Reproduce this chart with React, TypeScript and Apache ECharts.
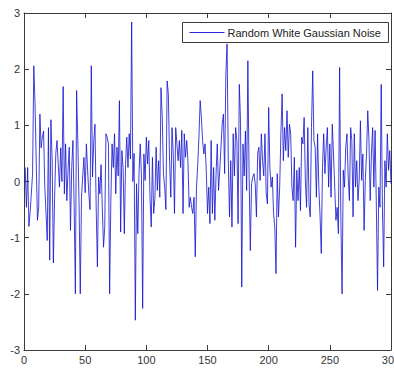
import React, { useEffect, useRef } from "react";
import * as echarts from "echarts";

// Random white Gaussian noise, samples 1..300
const noise1 = [
  0.25, -0.46, 0.25, -0.8, -0.55, -0.22, 0.14, 2.06, 1.4, 0.35,
  -0.69, -0.46, 1.2, 0.6, 0.79, 0.9, -0.1, -0.57, -1.05, 0.96,
  -1.4, 1.1, 0.4, -1.45, -0.3, 0.5, 0.73, 0.3, -0.1, 0.6,
  0.0, 1.69, -0.22, 0.67, -0.34, 0.2, 0.61, -0.87, 0.25, 0.73,
  -0.46, -2.0, 1.62, 0.73, -0.4, -2.0, -0.28, 0.1, 0.43, -0.2,
];
const noise2 = [
  0.67, 0.2, -0.22, -0.5, 2.06, 0.08, 0.7, 1.02, -0.46, -1.52,
  0.08, -0.22, 0.3, -0.46, -1.17, -0.81, 0.85, 0.79, 0.67, -2.0,
  -0.34, 0.67, 0.25, 0.85, -0.22, 0.61, 0.1, 1.44, -0.9, 0.55,
  0.25, -0.93, 0.3, 0.79, 0.25, 0.85, 0.4, 2.84, 0.0, 0.5,
  -2.47, -0.04, -0.93, 0.14, 0.67, 0.1, -2.26, 0.49, 0.02, 0.79,
];
const noise3 = [
  0.31, 0.73, -0.28, -0.81, 0.43, -0.57, -0.3, 0.61, -0.16, 0.37,
  -0.28, 1.67, 1.14, 0.14, -0.1, -0.5, 1.79, 1.56, 0.37, -0.28,
  0.96, 0.49, -0.57, 0.96, 0.67, 0.37, 0.73, 0.25, 0.91, -0.57,
  0.85, 0.43, 0.73, 0.37, -0.46, -0.28, -0.46, -0.57, -0.28, -1.34,
  -0.1, 0.3, 0.79, 1.44, 1.14, 0.73, 0.49, 0.67, 0.2, -0.57,
];
const noise4 = [
  -0.1, -0.75, 0.73, -0.57, 0.25, -0.69, 0.14, 0.67, -0.16, 0.2,
  0.61, 1.02, 1.2, 0.14, 1.9, 2.45, 0.37, -0.63, 0.37, -0.81,
  0.85, 0.1, 0.96, 0.73, -0.75, 1.73, 1.08, -1.88, 0.67, 0.1,
  0.9, -0.16, 2.15, 0.14, -1.23, -0.04, 0.08, 0.14, -0.04, -0.63,
  0.49, 0.61, 0.02, 0.85, 0.37, 0.1, 0.85, -0.22, -0.4, 1.32,
];
const noise5 = [
  0.25, -0.1, 0.08, -0.57, -0.81, -1.64, 0.14, -0.63, -0.1, 0.85,
  1.56, 0.37, 0.96, 0.55, 1.26, 0.43, 1.02, 0.85, -0.1, -0.34,
  0.43, -1.17, 0.2, -0.34, 0.25, -0.52, 0.79, 0.67, 1.14, 0.02,
  -0.46, 0.96, -0.4, -0.63, 0.96, 1.97, 0.73, 0.61, -0.28, 0.85,
  -0.1, -0.6, -1.28, 0.25, 0.85, 0.14, 0.61, 0.96, -0.1, 0.67,
];
const noise6 = [
  -0.28, 1.02, 0.49, -0.1, -0.69, -0.46, -0.93, 2.03, -0.63, -2.0,
  0.2, -0.1, 0.61, 0.85, 0.08, -0.34, 0.96, 0.73, -0.63, 0.85,
  -0.1, 0.37, -0.34, 0.02, 1.08, 0.02, 0.49, -0.87, 0.02, 0.49,
  1.26, 0.73, -0.34, 0.49, 0.96, -0.1, 0.91, -0.4, -1.94, -0.1,
  -0.46, 1.73, -0.46, -1.52, 0.37, -0.1, 0.85, 0.2, 0.55, -0.04,
];

const seriesName = "Random White Gaussian Noise";
const xRange = [0, 300];
const xStep = 50;
const yRange = [-3, 3];
const yStep = 1;

export default function App() {
  const ref = useRef<HTMLDivElement>(null);

  useEffect(() => {
    if (!ref.current) return;
    const chart = echarts.init(ref.current, null, { renderer: "svg" });
    const values = [...noise1, ...noise2, ...noise3, ...noise4, ...noise5, ...noise6];
    const data = values.map((v, i) => [i + 1, v]);

    const lineColor = "#3a3a3a";
    const seriesColor = "#1010d0";
    const font = "Liberation Sans, Arial, sans-serif";
    const baseAxis = {
      type: "value" as const,
      axisLine: { show: true, onZero: false, lineStyle: { color: lineColor, width: 1 } },
      axisTick: { show: true, inside: true, length: 5, lineStyle: { color: lineColor, width: 1 } },
      splitLine: { show: false },
    };

    chart.setOption({
      animation: false,
      backgroundColor: "#ffffff",
      grid: {
        left: 24,
        right: 3,
        top: 13,
        bottom: 24,
        containLabel: false,
        outerBoundsMode: "none",
      },
      xAxis: [
        {
          ...baseAxis,
          position: "bottom",
          min: xRange[0],
          max: xRange[1],
          interval: xStep,
          axisLabel: { show: true, margin: 4, fontSize: 11, fontFamily: font, color: "#333" },
        },
        {
          ...baseAxis,
          position: "top",
          min: xRange[0],
          max: xRange[1],
          interval: xStep,
          axisLabel: { show: false },
        },
      ],
      yAxis: [
        {
          ...baseAxis,
          position: "left",
          min: yRange[0],
          max: yRange[1],
          interval: yStep,
          axisLabel: { show: true, margin: 4, fontSize: 11, fontFamily: font, color: "#333" },
        },
        {
          ...baseAxis,
          position: "right",
          min: yRange[0],
          max: yRange[1],
          interval: yStep,
          axisLabel: { show: false },
        },
      ],
      legend: { show: false },
      graphic: [
        {
          type: "group",
          right: 5,
          top: 22,
          z: 100,
          children: [
            {
              type: "rect",
              shape: { x: 0, y: 0, width: 206, height: 20 },
              style: { fill: "#ffffff", stroke: lineColor, lineWidth: 1 },
            },
            {
              type: "line",
              shape: { x1: 7, y1: 10, x2: 42, y2: 10 },
              style: { stroke: seriesColor, lineWidth: 0.9 },
            },
            {
              type: "text",
              x: 45,
              y: 10,
              style: {
                text: seriesName,
                fontSize: 11,
                fontFamily: font,
                fill: "#222",
                verticalAlign: "middle",
                align: "left",
              },
            },
          ],
        },
      ],
      series: [
        {
          type: "line",
          name: seriesName,
          color: seriesColor,
          xAxisIndex: 0,
          yAxisIndex: 0,
          data,
          symbol: "none",
          showSymbol: false,
          lineStyle: { color: seriesColor, width: 0.8 },
          itemStyle: { color: seriesColor },
        },
      ],
    });

    return () => chart.dispose();
  }, []);

  return (
    <div
      ref={ref}
      style={{ position: "fixed", left: 0, top: 0, width: 394, height: 374 }}
    />
  );
}
